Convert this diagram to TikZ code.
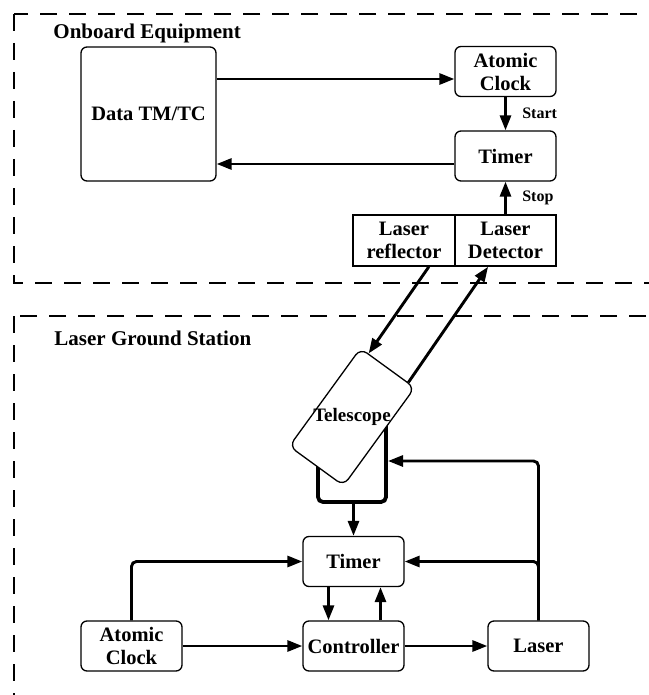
\documentclass[tikz,border=0pt]{standalone}
\usepackage{fontspec}
\setmainfont{Liberation Serif}
\usetikzlibrary{arrows.meta,calc}

\begin{document}
\begin{tikzpicture}[x=1pt, y=-1pt, line width=2.9pt,
    >={Triangle[length=15pt,width=11pt]},
    font=\bfseries\fontsize{20.5}{23}\selectfont]
  \tikzset{box/.style={draw, line width=1.3pt, rounded corners=6pt, align=center,
                       minimum width=101pt, minimum height=50pt, inner sep=2pt},
           plainbox/.style={box, rounded corners=0pt, line width=1.5pt},
           frame/.style={line width=2.7pt, dash pattern=on 17pt off 12pt},
           heading/.style={anchor=base west, inner sep=0pt,
                           font=\bfseries\fontsize{21}{24}\selectfont},
           tag/.style={font=\bfseries\fontsize{16}{18}\selectfont},
           brace/.style={line width=3.8pt, rounded corners=5pt}}
  \useasboundingbox (0,0) rectangle (648,695);

  \draw[frame] (14,14) rectangle (680,283);
  \draw[frame] (14,316) rectangle (680,720);
  \node[heading] (obhead) at (52,39) {Onboard Equipment};
  \node[heading] (gshead) at (53,345.5) {Laser Ground Station};

  \node[box, minimum width=135pt, minimum height=134pt] (data) at (148.5,114) {Data TM/TC};
  \foreach \n/\x/\y/\t in {clk/505.5/71.5/Atomic\\Clock, tmr/505.5/156/Timer,
                           gclk/131.5/646/Atomic\\Clock, gtmr/353.5/561.5/Timer,
                           ctrl/353.5/646/Controller, laser/538.5/646/Laser} {
    \node[box] (\n) at (\x,\y) {\t};
  }
  \node[plainbox, minimum width=102pt, minimum height=51pt] (refl) at (404,240.5) {Laser\\reflector};
  \node[plainbox, minimum height=51pt] (det) at (505.5,240.5) {Laser\\Detector};

  \draw[brace] (318,455) -- (318,502) -- (386,502) -- (386,425);
  \coordinate (brk) at (353.5,502);
  \coordinate (brkr) at (388,461);
  \node[box, fill=white, minimum width=67pt, minimum height=121pt,
        rounded corners=8pt, rotate=-36] (tel) at (352,417) {};
  \node[font=\bfseries\fontsize{19}{22}\selectfont] (tellbl) at (tel.center) {Telescope};

  \coordinate (a1) at ([yshift=-7.5pt]clk.west);
  \coordinate (b1) at ([yshift=-8pt]tmr.west);
  \draw[->] (data.east |- a1) -- (a1);
  \draw[->] (b1) -- (data.east |- b1);
  \draw[->] (clk) -- node[tag, right=12pt] {Start} (tmr);
  \draw[->] (det) -- node[tag, right=12pt] {Stop} (tmr);

  \coordinate (rs) at ($(refl.south west)!0.74!(refl.south east)$);
  \coordinate (ds) at ($(det.south west)!0.33!(det.south east)$);
  \draw[->] (rs) -- ($(tel.north west)!0.15!(tel.north east)$);
  \draw[->] ($(tel.north west)!0.87!(tel.north east)$) -- (ds);

  \draw[->] (brk) -- (gtmr.north);
  \draw[->, rounded corners=5pt] (laser.north) |- (brkr);
  \draw[->, rounded corners=5pt] (laser.north) |- (gtmr.east);
  \draw[->, rounded corners=5pt] (gclk.north) |- (gtmr.west);
  \draw[->] ([xshift=-25pt]gtmr.south) -- ([xshift=-25pt]ctrl.north);
  \draw[->] ([xshift=27pt]ctrl.north) -- ([xshift=27pt]gtmr.south);
  \draw[->] (gclk) -- (ctrl);
  \draw[->] (ctrl) -- (laser);
\end{tikzpicture}
\end{document}
